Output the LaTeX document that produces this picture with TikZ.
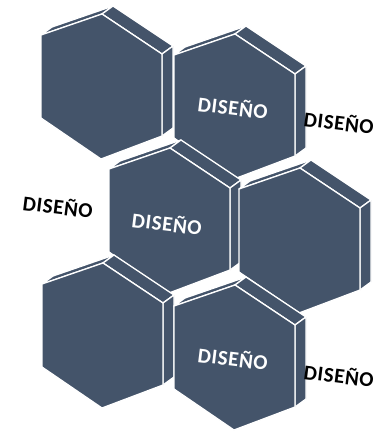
\documentclass[tikz,border=0pt]{standalone}
\usepackage{fontspec}
\setmainfont{Carlito}
\newfontfamily\labelfont[LetterSpace=3]{Carlito}
\usepackage{xcolor}
\usepackage{tikz}
\usetikzlibrary{positioning}

\definecolor{slate}{RGB}{68,84,106}

\begin{document}
\begin{tikzpicture}[x=1pt, y=-1pt,
  hexface/.style={fill=slate, draw=white, line width=1.3pt, line join=round},
  inlabel/.style={text=white, font=\labelfont\fontsize{21}{21}\selectfont\bfseries, rotate=-7, inner sep=0pt},
  outlabel/.style={text=black, font=\labelfont\fontsize{21}{21}\selectfont\bfseries, rotate=-7, inner sep=0pt}]

\useasboundingbox (0,0) rectangle (385,432);

% Hexagon blocks (top vertex of the front face), back row first
\foreach \hx/\hy in {102/14, 235/34, 170/148, 300/168, 103/263, 235/285}{
  \begin{scope}[shift={(\hx,\hy)}]
    % side faces
    \filldraw[hexface] (-61,21) -- (0,0) -- (11,-8) -- (-50,13) -- cycle;
    \filldraw[hexface] (0,0) -- (60,40) -- (71,32) -- (11,-8) -- cycle;
    \filldraw[hexface] (60,40) -- (60,122) -- (71,114) -- (71,32) -- cycle;
    % front face
    \filldraw[hexface] (0,0) -- (60,40) -- (60,122) -- (-1,145) -- (-61,104) -- (-61,21) -- cycle;
  \end{scope}
}

% Labels on the blocks
\node[inlabel] (dis-b) at (233,107) {DISEÑO};
\node[inlabel] (dis-c) at (167,223) {DISEÑO};
\node[inlabel] (dis-f) at (233,358) {DISEÑO};

% Labels beside the blocks
\node[outlabel] (dis-right-top) at (339,122) {DISEÑO};
\node[outlabel] (dis-left) at (58,206) {DISEÑO};
\node[outlabel] (dis-right-bot) at (339,375) {DISEÑO};

\end{tikzpicture}
\end{document}
